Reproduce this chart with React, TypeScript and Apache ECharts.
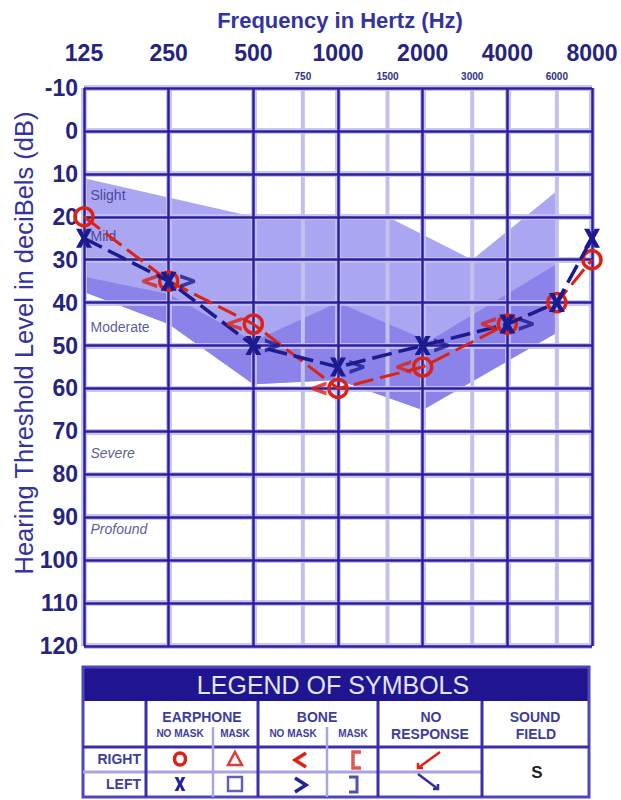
import { useEffect, useRef } from 'react';
import * as echarts from 'echarts';

const FONT = '"Liberation Sans", Arial, Helvetica, sans-serif';

// Axis
const freqLabels = ['125', '250', '500', '1000', '2000', '4000', '8000'];
const minorFreqs = [750, 1500, 3000, 6000];
const dbMin = -10;
const dbMax = 120;
const dbStep = 10;

// Air conduction (earphone, no mask)
const airFreqs = [125, 250, 500, 1000, 2000, 4000, 6000, 8000];
const rightAirDb = [20, 35, 45, 60, 55, 45, 40, 30];
const leftAirDb = [25, 35, 50, 55, 50, 45, 40, 25];

// Bone conduction (no mask)
const boneFreqs = [250, 500, 1000, 2000, 4000];
const rightBoneDb = [35, 45, 60, 55, 45];
const leftBoneDb = [35, 50, 55, 50, 45];

// Shaded bands
const mildTopFreq = [125, 500, 1500, 3000, 6000];
const mildTopDb = [11, 20, 20, 30, 14];
const modTopFreq = [125, 250, 500, 1000, 2100, 6000];
const modTopDb = [34, 38, 49, 40, 49, 31];
const modBottomFreq = [125, 250, 500, 1000, 2000, 6000];
const modBottomDb = [37.5, 45, 59, 58, 65, 47];

// Degree labels
const zoneNames = ['Slight', 'Mild', 'Moderate', 'Severe', 'Profound'];
const zoneDb = [15, 24.5, 45.7, 75, 92.8];
const zoneItalic = [false, false, false, true, true];

const lx = (f: number) => Math.log2(f / 125);

const X_PATH = 'path://M1,0 H7 L10,6 L13,0 H19 L13,10 L19,20 H13 L10,14 L7,20 H1 L7,10 Z';
const LT_PATH = 'path://M16,0 L16,4 L6,7 L16,10 L16,14 L0,8.5 L0,5.5 Z';
const GT_PATH = 'path://M0,0 L16,5.5 L16,8.5 L0,14 L0,10 L10,7 L0,4 Z';

const RED = '#dc2214';
const BLUE = '#1b1a8e';
const GRID_DARK = '#2c1f9f';
const GRID_HALO = 'rgba(196,192,238,0.9)';

export default function App() {
  const ref = useRef<HTMLDivElement>(null);

  useEffect(() => {
    const chart = echarts.init(ref.current as HTMLDivElement, null, { renderer: 'svg' });

    const hdr = '#3d3d9d';
    const tL = 83, tR = 589, tT = 667, hB = 701, r1 = 747, rM = 772, tB = 797;
    const darkCols = [146, 258, 378, 482];
    const lightCols = [213, 327];
    const xPts = [[1, 0], [7, 0], [10, 6], [13, 0], [19, 0], [13, 10], [19, 20], [13, 20], [10, 14], [7, 20], [1, 20], [7, 10]];

    const txt = (text: string, x: number, y: number, size: number, fill: string, weight = 'bold', align = 'center') => ({
      type: 'text', x, y,
      style: { text, fontSize: size, fontWeight: weight, fill, fontFamily: FONT, align, verticalAlign: 'middle' },
    });

    const graphic: any[] = [
      txt('Frequency in Hertz (Hz)', 340, 20, 22, '#3434a0'),
      {
        type: 'text', x: 24, y: 343, rotation: Math.PI / 2,
        style: { text: 'Hearing Threshold Level in deciBels (dB)', fontSize: 25.5, fill: '#3434a0', fontFamily: FONT, align: 'center', verticalAlign: 'middle' },
      },
      // legend table
      { type: 'rect', shape: { x: tL, y: tT, width: tR - tL, height: hB - tT }, style: { fill: '#1f1590' } },
      txt('LEGEND OF SYMBOLS', 333, 685, 25, '#e4e4fa', 'normal'),
      { type: 'rect', shape: { x: tL, y: tT, width: tR - tL, height: tB - tT }, style: { fill: 'none', stroke: '#5046bb', lineWidth: 3 } },
      { type: 'line', shape: { x1: tL, y1: r1, x2: tR, y2: r1 }, style: { stroke: '#3a2ead', lineWidth: 3 } },
      { type: 'line', shape: { x1: tL, y1: rM, x2: 482, y2: rM }, style: { stroke: '#aaa4e2', lineWidth: 3 } },
      ...darkCols.map((c) => ({ type: 'line', shape: { x1: c, y1: hB, x2: c, y2: tB }, style: { stroke: '#3a2ead', lineWidth: 3 } })),
      ...lightCols.map((c) => ({ type: 'line', shape: { x1: c, y1: 727, x2: c, y2: tB }, style: { stroke: '#aaa4e2', lineWidth: 2.5 } })),
      txt('EARPHONE', 202, 717, 14, hdr),
      txt('NO MASK', 180, 733, 10, hdr),
      txt('MASK', 235, 733, 10, hdr),
      txt('BONE', 317, 717, 14, hdr),
      txt('NO MASK', 293, 733, 10, hdr),
      txt('MASK', 353, 733, 10, hdr),
      txt('NO', 431, 717, 14, hdr),
      txt('RESPONSE', 430, 734, 14, hdr),
      txt('SOUND', 535, 717, 14, hdr),
      txt('FIELD', 536, 734, 14, hdr),
      txt('RIGHT', 141, 759, 14, hdr, 'bold', 'right'),
      txt('LEFT', 141, 784, 14, hdr, 'bold', 'right'),
      // right symbols
      { type: 'ellipse', shape: { cx: 180, cy: 759, rx: 5.5, ry: 6 }, style: { fill: 'none', stroke: RED, lineWidth: 3.5 } },
      { type: 'polygon', shape: { points: [[235, 752], [242, 765], [228, 765]] }, style: { fill: 'none', stroke: '#dd3a3a', lineWidth: 2.5 } },
      { type: 'polyline', shape: { points: [[306, 753], [295, 760], [306, 767]] }, style: { stroke: RED, lineWidth: 3.5, fill: 'none' } },
      { type: 'polyline', shape: { points: [[361, 752], [353, 752], [353, 768], [361, 768]] }, style: { stroke: '#e05a50', lineWidth: 3.5, fill: 'none' } },
      { type: 'line', shape: { x1: 440, y1: 752, x2: 418, y2: 768 }, style: { stroke: RED, lineWidth: 2.5 } },
      { type: 'polyline', shape: { points: [[418, 763], [418, 768], [423, 768]] }, style: { stroke: RED, lineWidth: 2.5, fill: 'none' } },
      // left symbols
      { type: 'polygon', shape: { points: xPts.map(([px, py]) => [174 + px * 0.6, 777 + py * 0.7]) }, style: { fill: '#22229c' } },
      { type: 'rect', shape: { x: 228, y: 777, width: 14, height: 14 }, style: { fill: 'none', stroke: '#6060b8', lineWidth: 2.5 } },
      { type: 'polyline', shape: { points: [[295, 778], [306, 785], [295, 792]] }, style: { stroke: '#22229c', lineWidth: 3.5, fill: 'none' } },
      { type: 'polyline', shape: { points: [[349, 777], [357, 777], [357, 792], [349, 792]] }, style: { stroke: '#5050b0', lineWidth: 3, fill: 'none' } },
      { type: 'line', shape: { x1: 418, y1: 774, x2: 438, y2: 789 }, style: { stroke: '#3030a0', lineWidth: 2.5 } },
      { type: 'polyline', shape: { points: [[433, 789], [438, 789], [438, 784]] }, style: { stroke: '#3030a0', lineWidth: 2.5, fill: 'none' } },
      txt('S', 537, 772, 17, '#222222', 'bold'),
    ];

    const haloSplit = { show: true, lineStyle: { color: GRID_HALO, width: 6 } };
    const darkSplit = { show: true, lineStyle: { color: GRID_DARK, width: 2.5 } };

    const option: any = {
      animation: false,
      backgroundColor: '#ffffff',
      grid: { left: 84, right: 29, top: 88, bottom: 154 },
      xAxis: [
        {
          type: 'value', position: 'top', min: 0, max: freqLabels.length - 1, interval: 1, z: 1,
          axisLine: { show: false }, axisTick: { show: false },
          axisLabel: {
            formatter: (v: number) => freqLabels[Math.round(v)] ?? '',
            fontSize: 23, fontWeight: 'bold', color: '#25257f', fontFamily: FONT, margin: 24,
          },
          splitLine: darkSplit,
        },
        {
          type: 'value', position: 'top', min: 0, max: freqLabels.length - 1, interval: 1, z: 0,
          axisLine: { show: false }, axisTick: { show: false }, axisLabel: { show: false },
          splitLine: haloSplit,
        },
      ],
      yAxis: [
        {
          type: 'value', inverse: true, min: dbMin, max: dbMax, interval: dbStep, z: 1,
          axisLine: { show: false }, axisTick: { show: false },
          axisLabel: { fontSize: 23, fontWeight: 'bold', color: '#25257f', fontFamily: FONT, margin: 6 },
          splitLine: darkSplit,
        },
        {
          type: 'value', inverse: true, min: dbMin, max: dbMax, interval: dbStep, z: 0,
          axisLine: { show: false }, axisTick: { show: false }, axisLabel: { show: false },
          splitLine: haloSplit,
        },
      ],
      graphic,
      series: [
        {
          type: 'custom', z: -2, silent: true, clip: false,
          data: [[0, 0]],
          renderItem: (_p: any, api: any) => {
            const pt = (f: number, d: number) => api.coord([lx(f), d]);
            const top = mildTopFreq.map((f, i) => pt(f, mildTopDb[i]));
            const mt = modTopFreq.map((f, i) => pt(f, modTopDb[i]));
            const mb = modBottomFreq.map((f, i) => pt(f, modBottomDb[i])).reverse();
            return {
              type: 'group',
              children: [
                { type: 'polygon', shape: { points: [...top, ...mb] }, style: { fill: '#aba6f1' } },
                { type: 'polygon', shape: { points: [...mt, ...mb] }, style: { fill: '#8b83e9' } },
              ],
            };
          },
        },
        {
          type: 'custom', z: -1, silent: true, clip: false,
          data: minorFreqs.map((f) => [lx(f), 0]),
          renderItem: (p: any, api: any) => {
            const x = api.value(0);
            const a = api.coord([x, dbMin]);
            const b = api.coord([x, dbMax]);
            return {
              type: 'group',
              children: [
                { type: 'line', shape: { x1: a[0], y1: a[1], x2: b[0], y2: b[1] }, style: { stroke: '#c4c0ec', lineWidth: 4 } },
                {
                  type: 'text', x: a[0], y: a[1] - 12,
                  style: { text: String(minorFreqs[p.dataIndex]), fontSize: 10, fontWeight: 'bold', fill: '#30308a', fontFamily: FONT, align: 'center', verticalAlign: 'middle' },
                },
              ],
            };
          },
        },
        {
          type: 'scatter', z: 2, silent: true, symbolSize: 1,
          itemStyle: { color: 'rgba(0,0,0,0)' },
          data: zoneDb.map((d, i) => ({
            value: [0, d],
            label: { fontStyle: zoneItalic[i] ? 'italic' : 'normal' },
          })),
          label: {
            show: true, position: 'right', distance: 6,
            formatter: (p: any) => zoneNames[p.dataIndex],
            fontSize: 14, color: '#2e2e86', fontFamily: FONT,
          },
        },
        {
          type: 'line', z: 3, silent: true,
          data: airFreqs.map((f, i) => [lx(f), rightAirDb[i]]),
          symbol: 'circle', symbolSize: 18,
          itemStyle: { color: 'rgba(0,0,0,0)', borderColor: RED, borderWidth: 3.5 },
          lineStyle: { color: RED, width: 3, type: [20, 7] },
        },
        {
          type: 'line', z: 4, silent: true,
          data: airFreqs.map((f, i) => [lx(f), leftAirDb[i]]),
          symbol: X_PATH, symbolSize: [16, 19],
          itemStyle: { color: BLUE },
          lineStyle: { color: BLUE, width: 3.5, type: [20, 7] },
        },
        {
          type: 'scatter', z: 5, silent: true,
          data: boneFreqs.map((f, i) => [lx(f), rightBoneDb[i]]),
          symbol: LT_PATH, symbolSize: [15, 14], symbolOffset: [-19, 0],
          itemStyle: { color: RED },
        },
        {
          type: 'scatter', z: 5, silent: true,
          data: boneFreqs.map((f, i) => [lx(f), leftBoneDb[i]]),
          symbol: GT_PATH, symbolSize: [15, 14], symbolOffset: [19, 0],
          itemStyle: { color: BLUE },
        },
      ],
    };

    chart.setOption(option);
    return () => chart.dispose();
  }, []);

  return (
    <div
      ref={ref}
      style={{ position: 'absolute', left: 0, top: 0, width: 621, height: 800, background: '#ffffff' }}
    />
  );
}
